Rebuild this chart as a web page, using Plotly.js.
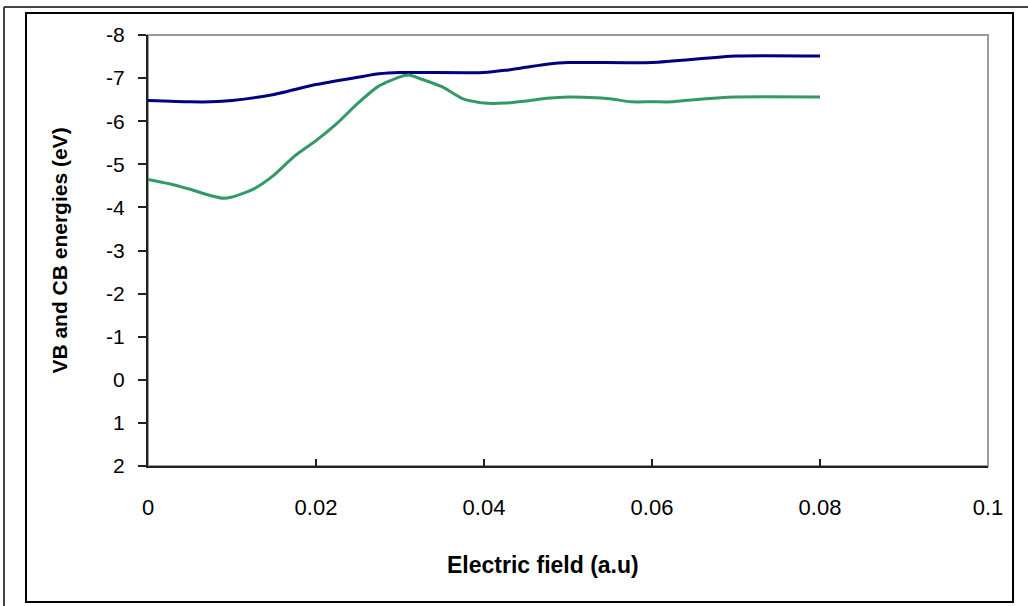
<!DOCTYPE html>
<html>
<head>
<meta charset="utf-8">
<script src="https://cdn.plot.ly/plotly-3.0.1.min.js"></script>
<style>html,body{margin:0;padding:0;background:#fff;}#chart{width:1028px;height:606px;}</style>
</head>
<body>
<div id="chart"></div>
<script>
// Electric field (a.u)
const vbField = [0, 0.005, 0.0075, 0.01, 0.015, 0.02, 0.025, 0.0275, 0.03, 0.04, 0.0425, 0.045, 0.0475, 0.05, 0.06, 0.07, 0.08];
// VB energies (eV)
const vbEnergy = [-6.48, -6.45, -6.45, -6.48, -6.62, -6.85, -7.02, -7.1, -7.13, -7.13, -7.18, -7.25, -7.32, -7.36, -7.36, -7.51, -7.51];

const cbField = [0, 0.0025, 0.005, 0.0075, 0.009, 0.01, 0.0125, 0.015, 0.0175, 0.02, 0.0225, 0.025, 0.0275, 0.03, 0.031, 0.0325, 0.035, 0.0375, 0.04, 0.0425, 0.045, 0.0475, 0.05, 0.0525, 0.055, 0.0575, 0.06, 0.0625, 0.065, 0.07, 0.08];
// CB energies (eV)
const cbEnergy = [-4.65, -4.55, -4.42, -4.27, -4.21, -4.24, -4.42, -4.75, -5.2, -5.55, -5.95, -6.42, -6.82, -7.03, -7.07, -6.98, -6.8, -6.52, -6.42, -6.42, -6.47, -6.53, -6.56, -6.55, -6.52, -6.45, -6.45, -6.45, -6.5, -6.56, -6.56];

const xTicks = [0, 0.02, 0.04, 0.06, 0.08, 0.1];
const xTickText = ['0', '0.02', '0.04', '0.06', '0.08', '0.1'];
const yTicks = [-8, -7, -6, -5, -4, -3, -2, -1, 0, 1, 2];
const yTickText = ['-8', '-7', '-6', '-5', '-4', '-3', '-2', '-1', '0', '1', '2'];
const xTitle = 'Electric field (a.u)';
const yTitle = 'VB and CB energies (eV)';

const traces = [
  {x: vbField, y: vbEnergy, mode: 'lines', name: 'VB', line: {color: '#000080', width: 3, shape: 'spline', smoothing: 0.6}},
  {x: cbField, y: cbEnergy, mode: 'lines', name: 'CB', line: {color: '#339966', width: 3, shape: 'spline', smoothing: 0.6}}
];

const W = 840, H = 431, L = 148, B = 466;
function px(v){ return (v - L) / W; }
function py(v){ return (B - v) / H; }
const FONT = 'Liberation Sans, Arial, sans-serif';

const layout = {
  width: 1028, height: 606,
  margin: {l: 148, r: 40, t: 35, b: 140},
  paper_bgcolor: '#ffffff', plot_bgcolor: '#ffffff',
  showlegend: false,
  font: {family: FONT, color: '#000', size: 21},
  xaxis: {
    range: [0, 0.1], tickvals: xTicks, ticktext: xTickText,
    ticks: 'inside', ticklen: 7, tickwidth: 2, tickcolor: '#222',
    showline: true, linecolor: '#222', linewidth: 2,
    showgrid: false, zeroline: false,
    ticklabelstandoff: 21,
    tickfont: {size: 22, family: FONT}
  },
  yaxis: {
    range: [2, -8], tickvals: yTicks, ticktext: yTickText,
    ticks: 'outside', ticklen: 8, tickwidth: 2, tickcolor: '#222',
    showline: true, linecolor: '#222', linewidth: 2,
    showgrid: false, zeroline: false,
    ticklabelstandoff: 9,
    tickfont: {size: 21, family: FONT},
    title: {text: yTitle, font: {size: 21, family: FONT, weight: 'bold'}, standoff: 33}
  },
  annotations: [
    {text: xTitle, xref: 'paper', yref: 'paper', x: px(543), y: py(565), xanchor: 'center', yanchor: 'middle', showarrow: false, font: {size: 23, family: FONT, weight: 'bold'}}
  ],
  shapes: [
    {type: 'rect', xref: 'paper', yref: 'paper', x0: 0, x1: 1, y0: 0, y1: 1, line: {color: '#9a9a9a', width: 2}, layer: 'below'},
    {type: 'rect', xref: 'paper', yref: 'paper', x0: px(26), x1: px(1013), y0: py(602), y1: py(13), line: {color: '#000', width: 2}, layer: 'below'},
    {type: 'line', xref: 'paper', yref: 'paper', x0: px(4), x1: px(1028), y0: py(7), y1: py(7), line: {color: '#444', width: 2}, layer: 'below'},
    {type: 'line', xref: 'paper', yref: 'paper', x0: px(4), x1: px(4), y0: py(7), y1: py(606), line: {color: '#444', width: 2}, layer: 'below'}
  ]
};

Plotly.newPlot('chart', traces, layout, {displayModeBar: false, staticPlot: true});
</script>
</body>
</html>
